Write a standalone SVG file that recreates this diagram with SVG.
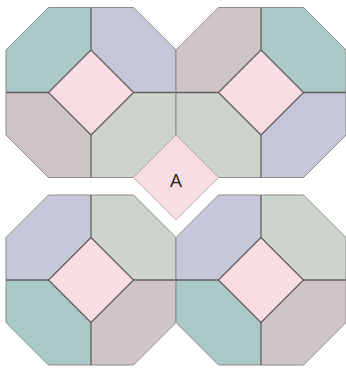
<svg xmlns="http://www.w3.org/2000/svg" width="346" height="368" viewBox="0 0 346 368">
<style>
.teal{fill:#a9c9c6}
.lav{fill:#c6c8d9}
.mauve{fill:#cfc5c8}
.sage{fill:#cdd4cb}
.pink{fill:#f8dee2}
.q{stroke:none}
.outline{fill:none;stroke:#8e8889;stroke-width:1}
.inner{fill:none;stroke:#645d5f;stroke-width:1.3;stroke-linejoin:round}
.label{font-family:"Open Sans","Liberation Sans",sans-serif;font-size:19px;fill:#222;text-anchor:middle}
</style>
<defs>
<polygon id="qTL" points="0,85 0,42.5 42.5,0 85,0 85,42.5 42.5,85"/>
<polygon id="qTR" points="85,0 127.5,0 170,42.5 170,85 127.5,85 85,42.5"/>
<polygon id="qBR" points="170,85 170,127.5 127.5,170 85,170 85,127.5 127.5,85"/>
<polygon id="qBL" points="85,170 42.5,170 0,127.5 0,85 42.5,85 85,127.5"/>
<polygon id="oct" points="42.5,0 127.5,0 170,42.5 170,127.5 127.5,170 42.5,170 0,127.5 0,42.5"/>
<g id="lines">
<polygon points="85,42.5 127.5,85 85,127.5 42.5,85"/>
<path d="M85,0V42.5M85,127.5V170M0,85H42.5M127.5,85H170"/>
</g>
</defs>
<g id="octagon-top-left" transform="translate(6,7.5)">
<use href="#qTL" class="teal"/><use href="#qTR" class="lav"/><use href="#qBL" class="mauve"/><use href="#qBR" class="sage"/>
<polygon class="pink" points="85,42.5 127.5,85 85,127.5 42.5,85"/>
<use href="#oct" class="outline"/><use href="#lines" class="inner"/>
</g>
<g id="octagon-top-right" transform="translate(176,7.5)">
<use href="#qTL" class="mauve"/><use href="#qTR" class="teal"/><use href="#qBL" class="sage"/><use href="#qBR" class="lav"/>
<polygon class="pink" points="85,42.5 127.5,85 85,127.5 42.5,85"/>
<use href="#oct" class="outline"/><use href="#lines" class="inner"/>
</g>
<g id="octagon-bottom-left" transform="translate(6,195)">
<use href="#qTL" class="lav"/><use href="#qTR" class="sage"/><use href="#qBL" class="teal"/><use href="#qBR" class="mauve"/>
<polygon class="pink" points="85,42.5 127.5,85 85,127.5 42.5,85"/>
<use href="#oct" class="outline"/><use href="#lines" class="inner"/>
</g>
<g id="octagon-bottom-right" transform="translate(176,195)">
<use href="#qTL" class="lav"/><use href="#qTR" class="sage"/><use href="#qBL" class="teal"/><use href="#qBR" class="mauve"/>
<polygon class="pink" points="85,42.5 127.5,85 85,127.5 42.5,85"/>
<use href="#oct" class="outline"/><use href="#lines" class="inner"/>
</g>
<g id="diamond-A">
<polygon class="pink" points="176,135 218.5,177.5 176,220 133.5,177.5" stroke="#a8a2a3" stroke-width="0.8"/>
<text class="label" x="176" y="187">A</text>
</g>
</svg>
